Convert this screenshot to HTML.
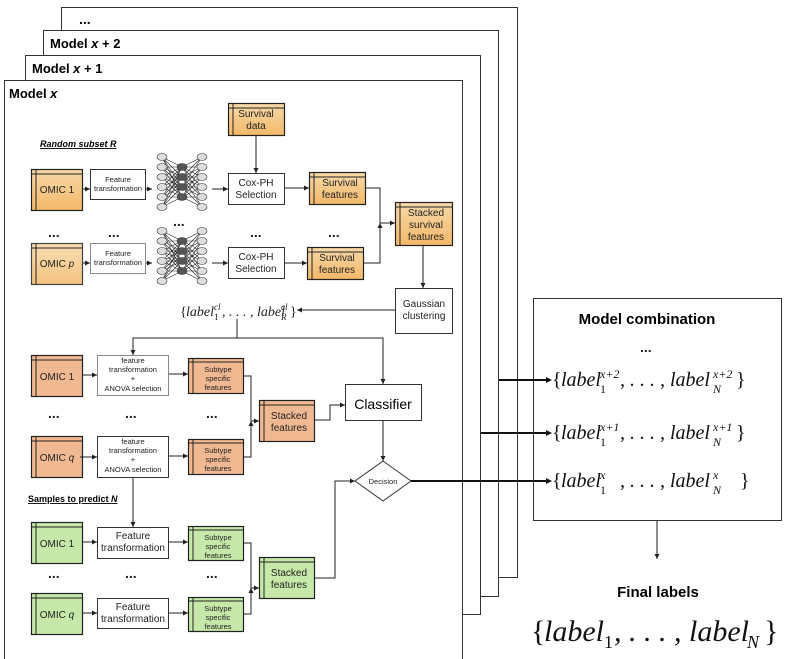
<!DOCTYPE html>
<html><head><meta charset="utf-8"><style>
body{margin:0;background:#fff}
svg{display:block;font-family:"Liberation Sans",sans-serif}
.m{font-family:"Liberation Serif",serif;font-style:italic}
</style></head><body>
<svg width="793" height="659" viewBox="0 0 793 659" xmlns="http://www.w3.org/2000/svg">
<defs>
<marker id="a" markerWidth="6" markerHeight="6" refX="5" refY="3" orient="auto"><path d="M0,0.5 L5,3 L0,5.5z" fill="#222"/></marker>
<linearGradient id="og" x1="0" y1="0" x2="0" y2="1"><stop offset="0" stop-color="#f7d9a8"/><stop offset="1" stop-color="#f3b869"/></linearGradient>
</defs>
<g fill="#fff" stroke="#333" stroke-width="1">
<rect x="61.5" y="7.5" width="456" height="570"/>
<rect x="43.5" y="30.5" width="455" height="566"/>
<rect x="25.5" y="55.5" width="455" height="559"/>
<rect x="4.5" y="80.5" width="458" height="580"/>
</g>
<text x="79" y="24" font-size="14" font-weight="bold">...</text>
<text x="50" y="48" font-size="13" font-weight="bold">Model <tspan font-style="italic">x</tspan> + 2</text>
<text x="32" y="73" font-size="13" font-weight="bold">Model <tspan font-style="italic">x</tspan> + 1</text>
<text x="9" y="98" font-size="13" font-weight="bold">Model <tspan font-style="italic">x</tspan></text>

<g stroke="#222" stroke-width="1.2">
<g fill="url(#og)">
<rect x="31.5" y="169.5" width="51" height="41"/><rect x="31.5" y="243.5" width="51" height="41" opacity=".85"/>
<rect x="228.5" y="103.5" width="56" height="32"/>
<rect x="309.5" y="172.5" width="56" height="32"/><rect x="307.5" y="247.5" width="56" height="32"/>
<rect x="395.5" y="202.5" width="57" height="43"/>
</g>
<g fill="#f0b992">
<rect x="31.5" y="355.5" width="51" height="41"/><rect x="31.5" y="436.5" width="51" height="41"/>
<rect x="188.5" y="358.5" width="55" height="35"/><rect x="188.5" y="439.5" width="55" height="35"/>
<rect x="259.5" y="400.5" width="55" height="41"/>
</g>
<g fill="#c6e9a9">
<rect x="31.5" y="522.5" width="51" height="41"/><rect x="31.5" y="593.5" width="51" height="41"/>
<rect x="188.5" y="526.5" width="55" height="34"/><rect x="188.5" y="597.5" width="55" height="34"/>
<rect x="259.5" y="557.5" width="55" height="41"/>
</g>
</g>
<g stroke="#222" stroke-width="1" fill="none">
<path d="M36,170v40M32,174h50M36,244v40M32,248h50M233,104v31M229,108h55M314,173v31M310,177h55M312,248v31M308,252h55M400,203v42M396,207h56"/>
<path d="M36,356v40M32,360h50M36,437v40M32,441h50M193,359v34M189,362h54M193,440v34M189,443h54M264,401v40M260,405h54"/>
<path d="M36,523v40M32,527h50M36,594v40M32,598h50M193,527v33M189,530h54M193,598v33M189,601h54M264,558v40M260,562h54"/>
</g>
<g fill="#fff" stroke="#333" stroke-width="1">
<rect x="90.5" y="169.5" width="55" height="30"/><rect x="90.5" y="243.5" width="55" height="30" stroke="#888"/>
<rect x="228.5" y="173.5" width="56" height="31"/><rect x="228.5" y="247.5" width="56" height="31"/>
<rect x="395.5" y="288.5" width="57" height="45"/>
<rect x="97.5" y="355.5" width="71" height="40" stroke="#888"/><rect x="97.5" y="436.5" width="71" height="41"/>
<rect x="345.5" y="384.5" width="76" height="36"/>
<rect x="97.5" y="527.5" width="71" height="31"/><rect x="97.5" y="598.5" width="71" height="30"/>
<path d="M383,461L411,481L383,501L355,481Z"/>
<rect x="533.5" y="298.5" width="248" height="222"/>
</g>
<g id="nn">
<g stroke="#222" stroke-width="0.6">
<path d="M162,157L182,167M162,157L182,177M162,157L182,187M162,167L182,167M162,167L182,177M162,167L182,197M162,177L182,167M162,177L182,187M162,177L182,197M162,187L182,177M162,187L182,187M162,187L182,197M162,197L182,167M162,197L182,187M162,207L182,197M162,207L182,177M162,167L182,187M162,177L182,177M162,187L182,167M162,197L182,197M162,157L182,197M162,207L182,187M162,197L182,177M162,207L182,167"/>
<path d="M202,157L182,167M202,157L182,177M202,157L182,187M202,167L182,167M202,167L182,177M202,167L182,197M202,177L182,167M202,177L182,187M202,177L182,197M202,187L182,177M202,187L182,187M202,187L182,197M202,197L182,167M202,197L182,187M202,207L182,197M202,207L182,177M202,167L182,187M202,177L182,177M202,187L182,167M202,197L182,197M202,197L182,177M202,207L182,187"/>
</g>
<g fill="#ddd" stroke="#333" stroke-width="0.6">
<ellipse cx="162" cy="157" rx="5" ry="3.5"/><ellipse cx="162" cy="167" rx="5" ry="3.5"/><ellipse cx="162" cy="177" rx="5" ry="3.5"/><ellipse cx="162" cy="187" rx="5" ry="3.5"/><ellipse cx="162" cy="197" rx="5" ry="3.5"/><ellipse cx="162" cy="207" rx="5" ry="3.5"/>
<ellipse cx="202" cy="157" rx="5" ry="3.5"/><ellipse cx="202" cy="167" rx="5" ry="3.5"/><ellipse cx="202" cy="177" rx="5" ry="3.5"/><ellipse cx="202" cy="187" rx="5" ry="3.5"/><ellipse cx="202" cy="197" rx="5" ry="3.5"/><ellipse cx="202" cy="207" rx="5" ry="3.5"/>
<g fill="#555"><ellipse cx="182" cy="167" rx="5" ry="3.5"/><ellipse cx="182" cy="177" rx="5" ry="3.5"/><ellipse cx="182" cy="187" rx="5" ry="3.5"/><ellipse cx="182" cy="197" rx="5" ry="3.5"/></g>
</g>
</g>
<use href="#nn" y="74"/>
<g stroke="#222" stroke-width="1" fill="none" marker-end="url(#a)">
<path d="M83,189h7"/><path d="M83,263h7"/><path d="M146,189h6"/><path d="M146,263h6"/>
<path d="M212,189h16"/><path d="M212,263h16"/>
<path d="M256,136v37"/>
<path d="M285,188h24"/><path d="M285,263h22"/>
<path d="M366,188h14v35h15"/><path d="M364,263h16v-40"/>
<path d="M423,246v42"/>
<path d="M395,310h-98"/>
<path d="M237,319v19h-104v17"/><path d="M237,338h146v46"/>
<path d="M83,375h14"/><path d="M81,457h-1h17" /><path d="M169,374h19"/><path d="M169,456h19"/>
<path d="M244,376h7v45h8"/><path d="M244,457h7v-36"/>
<path d="M315,420h15v-15h15"/>
<path d="M383,421v40"/>
<path d="M133,478v49"/>
<path d="M83,542h14"/><path d="M83,613h14"/><path d="M169,542h19"/><path d="M169,613h19"/>
<path d="M244,543h7v45h8"/><path d="M244,614h7v-26"/>
<path d="M315,578h20v-97h20"/>
<path d="M657,521v38"/>
</g>
<g stroke="#111" stroke-width="2" fill="none">
<path d="M411,481h137"/><path d="M481,433h67"/><path d="M499,380h49"/>
</g>
<g fill="#111"><path d="M552,481l-6,-3v6z"/><path d="M552,433l-6,-3v6z"/><path d="M552,380l-6,-3v6z"/></g>
<g font-size="10" text-anchor="middle" fill="#222">
<text x="57" y="193">OMIC 1</text><text x="57" y="267">OMIC <tspan font-style="italic">p</tspan></text>
<text x="256" y="117">Survival</text><text x="256" y="129">data</text>
<text x="256" y="186">Cox-PH</text><text x="256" y="198">Selection</text>
<text x="256" y="260">Cox-PH</text><text x="256" y="272">Selection</text>
<text x="340" y="186">Survival</text><text x="340" y="198">features</text>
<text x="337" y="261">Survival</text><text x="337" y="273">features</text>
<text x="426" y="216">Stacked</text><text x="426" y="228">survival</text><text x="426" y="240">features</text>
<text x="424" y="307">Gaussian</text><text x="424" y="319">clustering</text>
<text x="57" y="380">OMIC 1</text><text x="57" y="461">OMIC <tspan font-style="italic">q</tspan></text>
<text x="289" y="419">Stacked</text><text x="289" y="431">features</text>
<text x="57" y="547">OMIC 1</text><text x="57" y="618">OMIC <tspan font-style="italic">q</tspan></text>
<text x="133" y="539">Feature</text><text x="133" y="551">transformation</text>
<text x="133" y="610">Feature</text><text x="133" y="622">transformation</text>
<text x="289" y="576">Stacked</text><text x="289" y="588">features</text>
</g>
<g font-size="7.5" text-anchor="middle" fill="#222">
<text x="118" y="182">Feature</text><text x="118" y="191">transformation</text>
<text x="118" y="256">Feature</text><text x="118" y="265">transformation</text>
<text x="133" y="363">feature</text><text x="133" y="372">transformation</text><text x="133" y="381">+</text><text x="133" y="391">ANOVA selection</text>
<text x="133" y="444">feature</text><text x="133" y="453">transformation</text><text x="133" y="462">+</text><text x="133" y="472">ANOVA selection</text>
<text x="218" y="372">Subtype</text><text x="218" y="381">specific</text><text x="218" y="390">features</text>
<text x="218" y="453">Subtype</text><text x="218" y="462">specific</text><text x="218" y="471">features</text>
<text x="218" y="540">Subtype</text><text x="218" y="549">specific</text><text x="218" y="558">features</text>
<text x="218" y="611">Subtype</text><text x="218" y="620">specific</text><text x="218" y="629">features</text>
<text x="383" y="484">Decision</text>
</g>
<text x="383" y="409" font-size="14" text-anchor="middle">Classifier</text>
<text x="40" y="147" font-size="9" font-weight="bold" font-style="italic" text-decoration="underline">Random subset R</text>
<text x="28" y="502" font-size="9" font-weight="bold" text-decoration="underline">Samples to predict <tspan font-style="italic">N</tspan></text>
<g font-size="14" font-weight="bold" fill="#222">
<text x="48" y="237">...</text><text x="108" y="237">...</text><text x="173" y="226">...</text><text x="250" y="237">...</text><text x="328" y="237">...</text>
<text x="48" y="418">...</text><text x="125" y="418">...</text><text x="206" y="418">...</text>
<text x="48" y="578">...</text><text x="125" y="578">...</text><text x="206" y="578">...</text>
<text x="640" y="352">...</text>
</g>
<g class="m" fill="#222">
<text x="180" y="316" font-size="14" font-style="normal">{</text>
<text x="186" y="316" font-size="14">label</text>
<text x="214" y="310" font-size="9">cl</text>
<text x="214" y="320" font-size="9" font-style="normal">1</text>
<text x="222" y="316" font-size="14">, . . . , label</text>
<text x="281" y="310" font-size="9">cl</text>
<text x="281" y="320" font-size="9">R</text>
<text x="290" y="316" font-size="14" font-style="normal">}</text>
</g>
<text x="647" y="324" font-size="15" font-weight="bold" text-anchor="middle">Model combination</text>
<g class="m" fill="#111">
<text x="552" y="386" font-size="20" font-style="normal">{</text><text x="561" y="386" font-size="20">label</text>
<text x="600" y="378" font-size="12">x+2</text><text x="600" y="393" font-size="12" font-style="normal">1</text>
<text x="620" y="386" font-size="20">, . . . , label</text>
<text x="713" y="378" font-size="12">x+2</text><text x="713" y="393" font-size="12">N</text>
<text x="736" y="386" font-size="20" font-style="normal">}</text>

<text x="552" y="439" font-size="20" font-style="normal">{</text><text x="561" y="439" font-size="20">label</text>
<text x="600" y="431" font-size="12">x+1</text><text x="600" y="446" font-size="12" font-style="normal">1</text>
<text x="620" y="439" font-size="20">, . . . , label</text>
<text x="713" y="431" font-size="12">x+1</text><text x="713" y="446" font-size="12">N</text>
<text x="736" y="439" font-size="20" font-style="normal">}</text>

<text x="552" y="487" font-size="20" font-style="normal">{</text><text x="561" y="487" font-size="20">label</text>
<text x="600" y="479" font-size="12">x</text><text x="600" y="494" font-size="12" font-style="normal">1</text>
<text x="620" y="487" font-size="20">, . . . , label</text>
<text x="713" y="479" font-size="12">x</text><text x="713" y="494" font-size="12">N</text>
<text x="740" y="487" font-size="20" font-style="normal">}</text>
</g>
<text x="658" y="597" font-size="15" font-weight="bold" text-anchor="middle">Final labels</text>
<g class="m" fill="#111">
<text x="531" y="641" font-size="30" font-style="normal">{</text>
<text x="544" y="641" font-size="30">label</text>
<text x="604" y="648" font-size="18" font-style="normal">1</text>
<text x="614" y="641" font-size="30">, . . . , label</text>
<text x="747" y="648" font-size="18">N</text>
<text x="764" y="641" font-size="30" font-style="normal">}</text>
</g>
</svg>
</body></html>
